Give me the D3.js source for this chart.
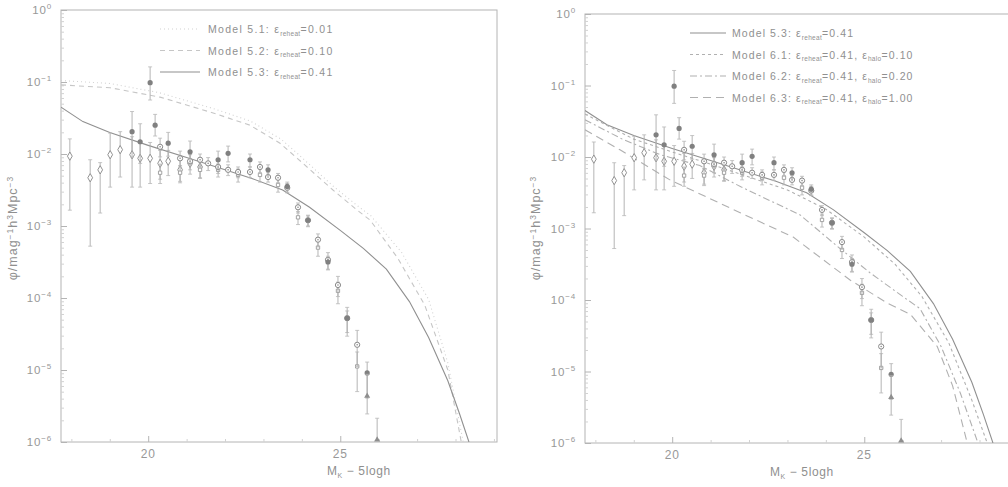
<!DOCTYPE html>
<html><head><meta charset="utf-8">
<script src="https://cdn.jsdelivr.net/npm/d3@7"></script>
<style>body{margin:0;background:#fff}text{font-family:"Liberation Sans",Arial,sans-serif}</style>
</head><body>
<svg id="c" width="1008" height="487"></svg>
<script>
// ---------- data (x = M_K - 5logh, y = log10 phi) ----------
const xDomain = [17.73, 29.08];
const yDomain = [1e-6, 1];
const xTickValues = [20, 25];
const xTickLabels = ["20", "25"];
const yTickExps = [0, -1, -2, -3, -4, -5, -6];

// Model curves
const m51M = [17.73, 19.0, 20.3, 21.7, 22.65, 23.45, 23.9, 24.8, 25.45, 25.8, 26.6, 27.3, 27.8, 28.2];
const m51L = [-0.98, -1.02, -1.15, -1.37, -1.54, -1.79, -2.00, -2.44, -2.72, -2.86, -3.37, -4.02, -4.9, -6.0];
const m52M = [17.73, 19.01, 20.31, 21.69, 22.65, 23.43, 23.88, 24.81, 25.44, 25.78, 26.5, 27.2, 27.8, 28.15];
const m52L = [-1.04, -1.08, -1.21, -1.43, -1.60, -1.85, -2.06, -2.50, -2.78, -2.92, -3.45, -4.1, -5.0, -6.0];
const m53M = [17.73, 18.3, 19.0, 20.0, 21.0, 22.0, 22.7, 23.5, 24.2, 25.0, 25.6, 26.2, 26.8, 27.3, 27.8, 28.1, 28.35];
const m53L = [-1.35, -1.55, -1.70, -1.88, -2.05, -2.22, -2.34, -2.50, -2.74, -3.06, -3.31, -3.60, -4.05, -4.55, -5.15, -5.6, -6.0];
const m61M = [17.73, 19.0, 20.0, 21.0, 22.0, 23.0, 24.0, 25.0, 25.8, 26.5, 27.2, 27.8, 28.2];
const m61L = [-1.40, -1.75, -1.93, -2.10, -2.28, -2.46, -2.73, -3.12, -3.50, -3.95, -4.6, -5.4, -6.0];
const m62M = [17.73, 18.7, 19.7, 20.72, 21.8, 23.33, 24.3, 25.15, 26.0, 26.45, 27.0, 27.5, 27.96];
const m62L = [-1.48, -1.75, -1.97, -2.12, -2.42, -2.81, -3.25, -3.62, -3.95, -4.12, -4.65, -5.3, -6.0];
const m63M = [17.73, 18.64, 19.94, 21.77, 23.15, 24.63, 25.59, 26.2, 26.9, 27.3, 27.68];
const m63L = [-1.62, -1.90, -2.32, -2.78, -3.12, -3.72, -4.04, -4.20, -4.65, -5.2, -6.0];

// Observational points
const diaM  = [17.96, 18.49, 18.75, 19.01, 19.27, 19.58, 19.79, 20.05, 20.31, 20.52, 20.83, 21.09, 21.35];
const diaL  = [-2.03, -2.33, -2.22, -2.01, -1.94, -2.01, -2.06, -2.06, -2.13, -2.10, -2.22, -2.13, -2.18];
const diaUp = [0.24, 0.25, 0.10, 0.30, 0.25, 0.25, 0.22, 0.22, 0.18, 0.15, 0.15, 0.12, 0.12];
const diaDn = [0.75, 0.95, 0.60, 0.45, 0.38, 0.45, 0.40, 0.35, 0.22, 0.20, 0.18, 0.15, 0.15];

const filM  = [19.58, 19.79, 20.05, 20.18, 20.52, 21.09, 21.82, 22.08, 22.65, 23.12, 23.62, 24.16, 24.68, 25.18, 25.70];
const filL  = [-1.69, -1.83, -1.01, -1.60, -1.85, -1.97, -2.08, -1.99, -2.08, -2.22, -2.45, -2.92, -3.50, -4.28, -5.04];
const filUp = [0.28, 0.25, 0.22, 0.15, 0.15, 0.15, 0.12, 0.10, 0.08, 0.07, 0.06, 0.06, 0.08, 0.10, 0.15];
const filDn = [0.35, 0.30, 0.24, 0.15, 0.18, 0.18, 0.12, 0.12, 0.10, 0.08, 0.08, 0.08, 0.10, 0.25, 0.35];

const opnM  = [20.31, 20.83, 21.09, 21.35, 21.56, 21.82, 22.08, 22.34, 22.65, 22.91, 23.12, 23.38, 23.62, 23.90, 24.16, 24.42, 24.68, 24.94, 25.18, 25.44];
const opnL  = [-1.90, -2.06, -2.10, -2.08, -2.13, -2.18, -2.22, -2.25, -2.25, -2.18, -2.32, -2.33, -2.47, -2.74, -2.92, -3.19, -3.47, -3.82, -4.28, -4.65];
const opnUp = [0.12, 0.10, 0.10, 0.08, 0.08, 0.08, 0.07, 0.07, 0.07, 0.07, 0.06, 0.06, 0.06, 0.06, 0.07, 0.08, 0.10, 0.12, 0.15, 0.2];
const opnDn = [0.14, 0.12, 0.12, 0.10, 0.10, 0.09, 0.08, 0.08, 0.08, 0.08, 0.07, 0.07, 0.07, 0.08, 0.09, 0.10, 0.14, 0.16, 0.2, 0.3];

const crsM  = [20.31, 20.83, 21.35, 21.82, 22.34, 22.91, 23.38, 23.90, 24.42, 24.94, 25.44];
const crsL  = [-2.26, -2.26, -2.22, -2.22, -2.29, -2.29, -2.43, -2.88, -3.30, -3.90, -4.95];
const crsUp = [0.12, 0.10, 0.10, 0.08, 0.08, 0.08, 0.08, 0.08, 0.10, 0.12, 0.2];
const crsDn = [0.15, 0.12, 0.12, 0.10, 0.10, 0.10, 0.10, 0.10, 0.12, 0.18, 0.35];

const triM  = [25.70, 25.96];
const triL  = [-5.36, -5.97];
const triUp = [0.30, 0.30];
const triDn = [0.25, 0.0];

const legendLeft = [
  {model: "Model 5.1: ", parts: [["ε", "reheat", "=0.01"]], dash: "1,3", color: "#d2d2d2"},
  {model: "Model 5.2: ", parts: [["ε", "reheat", "=0.10"]], dash: "5,4", color: "#c6c6c6"},
  {model: "Model 5.3: ", parts: [["ε", "reheat", "=0.41"]], dash: null, color: "#909090"}
];
const legendRight = [
  {model: "Model 5.3: ", parts: [["ε", "reheat", "=0.41"]], dash: null, color: "#909090"},
  {model: "Model 6.1: ", parts: [["ε", "reheat", "=0.41, "], ["ε", "halo", "=0.10"]], dash: "3,3", color: "#b0b0b0"},
  {model: "Model 6.2: ", parts: [["ε", "reheat", "=0.41, "], ["ε", "halo", "=0.20"]], dash: "7,3,2,3", color: "#b0b0b0"},
  {model: "Model 6.3: ", parts: [["ε", "reheat", "=0.41, "], ["ε", "halo", "=1.00"]], dash: "8,5", color: "#b0b0b0"}
];

// ---------- drawing ----------
const svg = d3.select("#c");
const zip = (M, L) => M.map((m, i) => ({m, l: L[i]}));
const pts = (M, L, U, D) => M.map((m, i) => ({m, l: L[i], up: U[i], dn: D[i]}));

function panel(cfg) {
  const x = d3.scaleLinear().domain(xDomain).range([cfg.x0, cfg.x1]);
  const y = d3.scaleLog().domain(yDomain).range([cfg.yB, cfg.yT]);
  const g = svg.append("g");
  const axisCol = "#b4b4b4";
  const txtCol = "#989898";

  // frame
  g.append("rect").attr("x", cfg.x0).attr("y", cfg.yT).attr("width", cfg.x1 - cfg.x0)
    .attr("height", cfg.yB - cfg.yT).attr("fill", "none").attr("stroke", axisCol).attr("stroke-width", 1);

  // y axis ticks (inward)
  const yAx = d3.axisRight(y).tickValues(yTickExps.map(e => Math.pow(10, e))).tickSize(6).tickFormat("");
  g.append("g").attr("transform", `translate(${cfg.x0},0)`).call(yAx)
    .call(s => s.select(".domain").remove()).selectAll("line").attr("stroke", axisCol);
  const minors = [];
  for (let e = -6; e < 0; e++) for (let k = 2; k <= 9; k++) minors.push(k * Math.pow(10, e));
  const yAxm = d3.axisRight(y).tickValues(minors).tickSize(3).tickFormat("");
  g.append("g").attr("transform", `translate(${cfg.x0},0)`).call(yAxm)
    .call(s => s.select(".domain").remove()).selectAll("line").attr("stroke", "#d2d2d2");

  // y tick labels
  yTickExps.forEach(e => {
    const t = g.append("text").attr("x", cfg.x0 - 9).attr("y", y(Math.pow(10, e)) + 4)
      .attr("text-anchor", "end").attr("fill", txtCol).attr("font-size", 11.5).attr("letter-spacing", 0.8);
    t.append("tspan").text("10");
    t.append("tspan").attr("dy", -5).attr("font-size", 8).text(e === 0 ? "0" : "−" + (-e));
  });

  // x axis ticks (inward)
  const xAx = d3.axisTop(x).tickValues(xTickValues).tickSize(6).tickFormat("");
  g.append("g").attr("transform", `translate(0,${cfg.yB})`).call(xAx)
    .call(s => s.select(".domain").remove()).selectAll("line").attr("stroke", axisCol);
  const xmin = d3.range(18, 30).filter(v => !xTickValues.includes(v) && v < xDomain[1]);
  const xAxm = d3.axisTop(x).tickValues(xmin).tickSize(3).tickFormat("");
  g.append("g").attr("transform", `translate(0,${cfg.yB})`).call(xAxm)
    .call(s => s.select(".domain").remove()).selectAll("line").attr("stroke", "#d2d2d2");
  xTickValues.forEach((v, i) => {
    g.append("text").attr("x", x(v)).attr("y", cfg.yB + 16).attr("text-anchor", "middle")
      .attr("fill", txtCol).attr("font-size", 12).attr("letter-spacing", 0.8).text(xTickLabels[i]);
  });

  // axis titles
  const xt = g.append("text").attr("x", cfg.xLabX).attr("y", cfg.yB + 33)
    .attr("fill", "#8f8f8f").attr("font-size", 12).attr("letter-spacing", 0.6);
  xt.append("tspan").text("M");
  xt.append("tspan").attr("dy", 3).attr("font-size", 7).text("K");
  xt.append("tspan").attr("dy", -3).text(" − 5logh");

  const yt = g.append("text").attr("transform", `translate(${cfg.yLabX},${cfg.yLabY}) rotate(-90)`)
    .attr("text-anchor", "middle").attr("fill", "#8f8f8f").attr("font-size", 12.5).attr("letter-spacing", 1);
  yt.append("tspan").text("φ/mag");
  yt.append("tspan").attr("dy", -4).attr("font-size", 8.5).text("−1");
  yt.append("tspan").attr("dy", 4).text("h");
  yt.append("tspan").attr("dy", -4).attr("font-size", 8.5).text("3");
  yt.append("tspan").attr("dy", 4).text("Mpc");
  yt.append("tspan").attr("dy", -4).attr("font-size", 8.5).text("−3");

  // clip
  const cid = "clip" + cfg.id;
  svg.append("clipPath").attr("id", cid).append("rect")
    .attr("x", cfg.x0).attr("y", cfg.yT).attr("width", cfg.x1 - cfg.x0).attr("height", cfg.yB - cfg.yT);
  const plot = g.append("g").attr("clip-path", `url(#${cid})`);

  const line = d3.line().x(d => x(d.m)).y(d => y(Math.pow(10, d.l)));
  cfg.curves.forEach(c => {
    plot.append("path").datum(zip(c.M, c.L)).attr("d", line).attr("fill", "none")
      .attr("stroke", c.color).attr("stroke-width", c.w || 1.1)
      .attr("stroke-dasharray", c.dash || null);
  });

  // data points with error bars
  function series(data, kind) {
    const gg = plot.append("g");
    data.forEach(d => {
      const cx = x(d.m), cy = y(Math.pow(10, d.l));
      const yu = y(Math.pow(10, d.l + d.up)), yd = y(Math.pow(10, d.l - d.dn));
      gg.append("line").attr("x1", cx).attr("x2", cx).attr("y1", yu).attr("y2", yd)
        .attr("stroke", "#ababab").attr("stroke-width", 0.9);
      [yu, yd].forEach(yy => { if (Math.abs(yy - cy) > 2) gg.append("line").attr("x1", cx - 2).attr("x2", cx + 2)
        .attr("y1", yy).attr("y2", yy).attr("stroke", "#b8b8b8").attr("stroke-width", 0.8); });
      if (kind === "dia") {
        gg.append("path").attr("d", d3.symbol(d3.symbolDiamond, 20)()).attr("transform", `translate(${cx},${cy})`)
          .attr("fill", "#fff").attr("stroke", "#929292").attr("stroke-width", 1);
      } else if (kind === "fil") {
        gg.append("circle").attr("cx", cx).attr("cy", cy).attr("r", 2.6).attr("fill", "#808080");
      } else if (kind === "opn") {
        gg.append("circle").attr("cx", cx).attr("cy", cy).attr("r", 2.6).attr("fill", "#fff")
          .attr("stroke", "#888").attr("stroke-width", 1);
        gg.append("circle").attr("cx", cx).attr("cy", cy).attr("r", 0.8).attr("fill", "#888");
      } else if (kind === "crs") {
        gg.append("path").attr("d", d3.symbol(d3.symbolSquare, 11)()).attr("transform", `translate(${cx},${cy})`)
          .attr("fill", "#fff").attr("stroke", "#9a9a9a").attr("stroke-width", 0.9);
      } else if (kind === "tri") {
        gg.append("path").attr("d", d3.symbol(d3.symbolTriangle, 16)()).attr("transform", `translate(${cx},${cy})`)
          .attr("fill", "#8e8e8e");
      }
    });
  }
  series(pts(diaM, diaL, diaUp, diaDn), "dia");
  series(pts(crsM, crsL, crsUp, crsDn), "crs");
  series(pts(opnM, opnL, opnUp, opnDn), "opn");
  series(pts(filM, filL, filUp, filDn), "fil");
  series(pts(triM, triL, triUp, triDn), "tri");

  // legend
  cfg.legend.forEach((it, i) => {
    const yy = cfg.legY + i * cfg.legDy;
    g.append("line").attr("x1", cfg.legLx0).attr("x2", cfg.legLx1).attr("y1", yy).attr("y2", yy)
      .attr("stroke", it.color).attr("stroke-width", 1.1).attr("stroke-dasharray", it.dash);
    const t = g.append("text").attr("x", cfg.legTx).attr("y", yy + 4).attr("fill", "#909090")
      .attr("font-size", 10.5).attr("letter-spacing", cfg.legLs);
    t.append("tspan").text(it.model);
    it.parts.forEach(p => {
      t.append("tspan").text(p[0]);
      t.append("tspan").attr("dy", 2.5).attr("font-size", 6.5).attr("letter-spacing", 0.3).text(p[1]);
      t.append("tspan").attr("dy", -2.5).attr("letter-spacing", cfg.legLs).text(p[2]);
    });
  });
}

panel({
  id: "L", x0: 61, x1: 497, yB: 442, yT: 10, xLabX: 327, yLabX: 17, yLabY: 228,
  curves: [
    {M: m51M, L: m51L, dash: "1,3", color: "#d2d2d2"},
    {M: m52M, L: m52L, dash: "5,4", color: "#c6c6c6"},
    {M: m53M, L: m53L, dash: null, color: "#909090"}
  ],
  legend: legendLeft, legY: 29, legDy: 21.5, legLx0: 160, legLx1: 200, legTx: 208, legLs: 1.3
});
panel({
  id: "R", x0: 585, x1: 1021, yB: 443, yT: 14, xLabX: 770, yLabX: 540, yLabY: 228,
  curves: [
    {M: m53M, L: m53L, dash: null, color: "#909090"},
    {M: m61M, L: m61L, dash: "3,3", color: "#b0b0b0"},
    {M: m62M, L: m62L, dash: "7,3,2,3", color: "#b0b0b0"},
    {M: m63M, L: m63L, dash: "8,5", color: "#b0b0b0"}
  ],
  legend: legendRight, legY: 33, legDy: 21.5, legLx0: 690, legLx1: 726, legTx: 732, legLs: 1.1
});
</script>
</body></html>
